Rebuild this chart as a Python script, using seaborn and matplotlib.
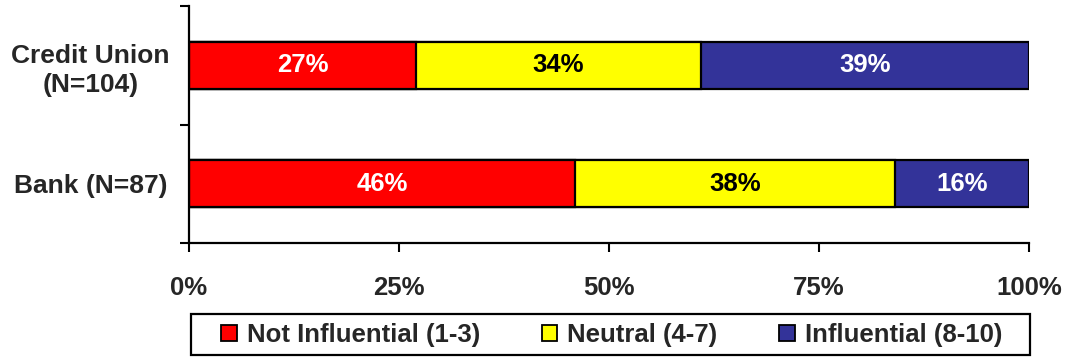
import matplotlib
matplotlib.use("Agg")
import matplotlib.pyplot as plt
import seaborn as sns
import pandas as pd
import numpy as np
from matplotlib.patches import Patch, Rectangle

groups = ["Credit Union\n(N=104)", "Bank (N=87)"]
not_influential = [27, 46]
neutral = [34, 38]
influential = [39, 16]
series_names = ["Not Influential (1-3)", "Neutral (4-7)", "Influential (8-10)"]
series_colors = ["#FF0000", "#FFFF00", "#333399"]
label_colors = ["white", "black", "white"]
x_ticks = [0, 25, 50, 75, 100]
x_tick_labels = ["0%", "25%", "50%", "75%", "100%"]

sns.set_theme(style="white")
plt.rcParams["font.family"] = ["Liberation Sans", "DejaVu Sans"]
plt.rcParams["font.weight"] = "bold"

W, H = 1068, 360
fig = plt.figure(figsize=(W / 100, H / 100), dpi=100)
ax = fig.add_axes([189 / W, 1 - 243 / H, (1029 - 189) / W, (243 - 6) / H])

values = np.array([not_influential, neutral, influential], dtype=float)
cum = np.cumsum(values, axis=0)

# stacked bars: draw cumulative totals from the longest down
for i in range(len(series_names) - 1, -1, -1):
    df = pd.DataFrame({"group": groups, "value": cum[i]})
    sns.barplot(data=df, x="value", y="group", orient="h", color=series_colors[i],
                saturation=1, width=0.40, edgecolor="black", linewidth=1.6, ax=ax)

# segment labels
for i in range(len(series_names)):
    for j, g in enumerate(groups):
        start = cum[i, j] - values[i, j]
        ax.text(start + values[i, j] / 2, j, f"{int(values[i, j])}%",
                ha="center", va="center", color=label_colors[i],
                fontsize=18.5, fontweight="bold")

ax.set_xlim(0, 100)
ax.set_ylim(1.5, -0.5)
ax.set_xlabel("")
ax.set_ylabel("")
ax.set_xticks(x_ticks)
ax.set_xticklabels(x_tick_labels, fontsize=18.5, fontweight="bold")
ax.set_yticks([-0.5, 0.5, 1.5])
ax.set_yticklabels([])
ax.set_yticks([0, 1], minor=True)
ax.set_yticklabels(groups, minor=True, fontsize=19, fontweight="bold", ha="center")
for lab in ax.get_yticklabels(minor=True):
    lab.set_linespacing(1.27)
ax.tick_params(axis="y", which="minor", length=0, pad=71)
ax.tick_params(axis="y", which="major", length=6.5, width=1.5, direction="out", left=True, color="black")
ax.tick_params(axis="x", length=6.5, width=1.5, direction="out", bottom=True, pad=17, color="black")

for side in ["top", "right"]:
    ax.spines[side].set_visible(False)
for side in ["left", "bottom"]:
    ax.spines[side].set_color("black")
    ax.spines[side].set_linewidth(1.6)

# legend box
fig.add_artist(Rectangle((191 / W, 1 - 355 / H), (1030 - 191) / W, (355 - 314) / H,
                         transform=fig.transFigure, facecolor="white",
                         edgecolor="black", linewidth=1.6, zorder=1))
handles = [Patch(facecolor=c, edgecolor="black", linewidth=1.3) for c in series_colors]
leg = fig.legend(handles, series_names, loc="center",
                 bbox_to_anchor=(611.5 / W, 1 - 335 / H), ncol=3,
                 frameon=False, prop={"weight": "bold", "size": 18.5},
                 handlelength=0.62, handleheight=0.62, handletextpad=0.38,
                 columnspacing=2.4, borderpad=0.0, borderaxespad=0.0)
leg.set_zorder(2)

fig.savefig("out.png", dpi=100)
